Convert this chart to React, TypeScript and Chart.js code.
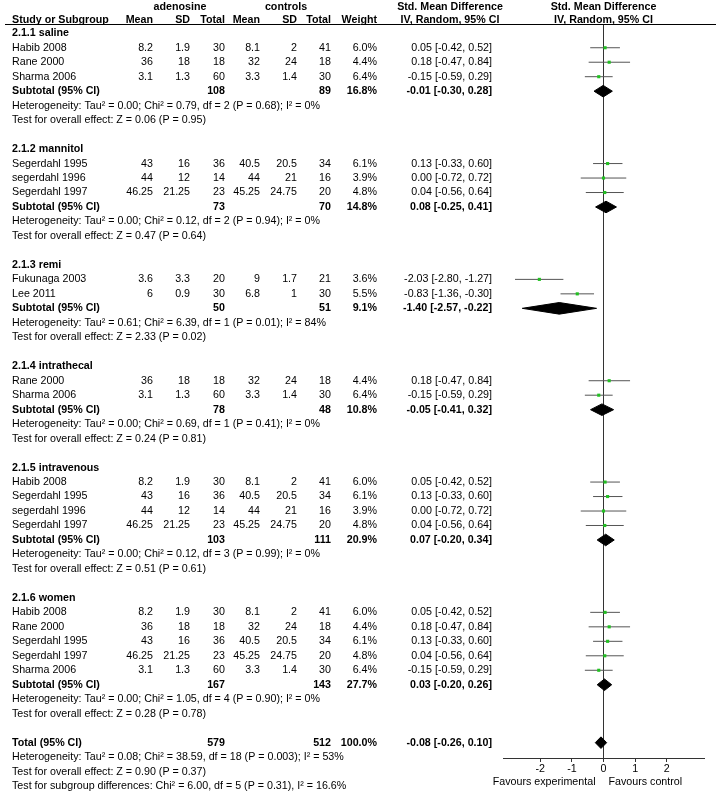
import React, { useEffect, useRef } from "react";
import { Chart, registerables } from "chart.js";

Chart.register(...registerables);

// ---------- data ----------
const SUBGROUP_TITLES = [
  "2.1.1 saline",
  "2.1.2 mannitol",
  "2.1.3 remi",
  "2.1.4 intrathecal",
  "2.1.5 intravenous",
  "2.1.6 women",
];

const STUDY_GROUP = [0, 0, 0, 1, 1, 1, 2, 2, 3, 3, 4, 4, 4, 4, 5, 5, 5, 5, 5];
const STUDY_NAMES = [
  "Habib 2008", "Rane 2000", "Sharma 2006",
  "Segerdahl 1995", "segerdahl 1996", "Segerdahl 1997",
  "Fukunaga 2003", "Lee 2011",
  "Rane 2000", "Sharma 2006",
  "Habib 2008", "Segerdahl 1995", "segerdahl 1996", "Segerdahl 1997",
  "Habib 2008", "Rane 2000", "Segerdahl 1995", "Segerdahl 1997", "Sharma 2006",
];
const EXP_MEAN = [8.2, 36, 3.1, 43, 44, 46.25, 3.6, 6, 36, 3.1, 8.2, 43, 44, 46.25, 8.2, 36, 43, 46.25, 3.1];
const EXP_SD = [1.9, 18, 1.3, 16, 12, 21.25, 3.3, 0.9, 18, 1.3, 1.9, 16, 12, 21.25, 1.9, 18, 16, 21.25, 1.3];
const EXP_N = [30, 18, 60, 36, 14, 23, 20, 30, 18, 60, 30, 36, 14, 23, 30, 18, 36, 23, 60];
const CTL_MEAN = [8.1, 32, 3.3, 40.5, 44, 45.25, 9, 6.8, 32, 3.3, 8.1, 40.5, 44, 45.25, 8.1, 32, 40.5, 45.25, 3.3];
const CTL_SD = [2, 24, 1.4, 20.5, 21, 24.75, 1.7, 1, 24, 1.4, 2, 20.5, 21, 24.75, 2, 24, 20.5, 24.75, 1.4];
const CTL_N = [41, 18, 30, 34, 16, 20, 21, 30, 18, 30, 41, 34, 16, 20, 41, 18, 34, 20, 30];
const WEIGHT = [6.0, 4.4, 6.4, 6.1, 3.9, 4.8, 3.6, 5.5, 4.4, 6.4, 6.0, 6.1, 3.9, 4.8, 6.0, 4.4, 6.1, 4.8, 6.4];
const SMD = [0.05, 0.18, -0.15, 0.13, 0.0, 0.04, -2.03, -0.83, 0.18, -0.15, 0.05, 0.13, 0.0, 0.04, 0.05, 0.18, 0.13, 0.04, -0.15];
const CI_LOW = [-0.42, -0.47, -0.59, -0.33, -0.72, -0.56, -2.8, -1.36, -0.47, -0.59, -0.42, -0.33, -0.72, -0.56, -0.42, -0.47, -0.33, -0.56, -0.59];
const CI_HIGH = [0.52, 0.84, 0.29, 0.6, 0.72, 0.64, -1.27, -0.3, 0.84, 0.29, 0.52, 0.6, 0.72, 0.64, 0.52, 0.84, 0.6, 0.64, 0.29];

const SUB_EXP_N = [108, 73, 50, 78, 103, 167];
const SUB_CTL_N = [89, 70, 51, 48, 111, 143];
const SUB_WEIGHT = [16.8, 14.8, 9.1, 10.8, 20.9, 27.7];
const SUB_SMD = [-0.01, 0.08, -1.4, -0.05, 0.07, 0.03];
const SUB_LOW = [-0.3, -0.25, -2.57, -0.41, -0.2, -0.2];
const SUB_HIGH = [0.28, 0.41, -0.22, 0.32, 0.34, 0.26];
const SUB_HETEROGENEITY = [
  "Heterogeneity: Tau² = 0.00; Chi² = 0.79, df = 2 (P = 0.68); I² = 0%",
  "Heterogeneity: Tau² = 0.00; Chi² = 0.12, df = 2 (P = 0.94); I² = 0%",
  "Heterogeneity: Tau² = 0.61; Chi² = 6.39, df = 1 (P = 0.01); I² = 84%",
  "Heterogeneity: Tau² = 0.00; Chi² = 0.69, df = 1 (P = 0.41); I² = 0%",
  "Heterogeneity: Tau² = 0.00; Chi² = 0.12, df = 3 (P = 0.99); I² = 0%",
  "Heterogeneity: Tau² = 0.00; Chi² = 1.05, df = 4 (P = 0.90); I² = 0%",
];
const SUB_OVERALL = [
  "Test for overall effect: Z = 0.06 (P = 0.95)",
  "Test for overall effect: Z = 0.47 (P = 0.64)",
  "Test for overall effect: Z = 2.33 (P = 0.02)",
  "Test for overall effect: Z = 0.24 (P = 0.81)",
  "Test for overall effect: Z = 0.51 (P = 0.61)",
  "Test for overall effect: Z = 0.28 (P = 0.78)",
];

const TOTAL_EXP_N = 579;
const TOTAL_CTL_N = 512;
const TOTAL_WEIGHT = 100.0;
const TOTAL_SMD = -0.08;
const TOTAL_LOW = -0.26;
const TOTAL_HIGH = 0.1;
const TOTAL_NOTES = [
  "Heterogeneity: Tau² = 0.08; Chi² = 38.59, df = 18 (P = 0.003); I² = 53%",
  "Test for overall effect: Z = 0.90 (P = 0.37)",
  "Test for subgroup differences: Chi² = 6.00, df = 5 (P = 0.31), I² = 16.6%",
];

const X_TICKS = [-2, -1, 0, 1, 2];

// ---------- layout / style constants ----------
const W = 716;
const H = 799;
const FONT_FAMILY = "Arial, 'Liberation Sans', sans-serif";
const FONT_SIZE = 10.7;
const ROW_MIN = -0.64;
const ROW_MAX = 50.06;
const X_MIN = -3.18;
const X_MAX = 3.18;
const DIAMOND_HALF = 0.4;
const GREEN = "#22c022";
const CI_COLOR = "#555555";

const COL = {
  name: 12,
  expMean: 153,
  expSd: 190,
  expN: 225,
  ctlMean: 260,
  ctlSd: 297,
  ctlN: 331,
  weight: 377,
  ci: 492,
  expHead: 180,
  ctlHead: 286,
  ciHead: 450,
};

type RowItem = { y: number; kind: "group" | "study" | "subtotal" | "note" | "total"; idx: number; text?: string };

function buildRows(): RowItem[] {
  const rows: RowItem[] = [];
  let r = 0;
  SUBGROUP_TITLES.forEach((_, g) => {
    rows.push({ y: r++, kind: "group", idx: g });
    STUDY_GROUP.forEach((sg, i) => {
      if (sg === g) rows.push({ y: r++, kind: "study", idx: i });
    });
    rows.push({ y: r++, kind: "subtotal", idx: g });
    rows.push({ y: r++, kind: "note", idx: g, text: SUB_HETEROGENEITY[g] });
    rows.push({ y: r++, kind: "note", idx: g, text: SUB_OVERALL[g] });
    r++;
  });
  rows.push({ y: r++, kind: "total", idx: 0 });
  TOTAL_NOTES.forEach((t) => rows.push({ y: r++, kind: "note", idx: 0, text: t }));
  return rows;
}

const fmtCI = (m: number, lo: number, hi: number) =>
  `${m.toFixed(2)} [${lo.toFixed(2)}, ${hi.toFixed(2)}]`;

function diamond(lo: number, est: number, hi: number, row: number) {
  return [
    { x: lo, y: row },
    { x: est, y: row - DIAMOND_HALF },
    { x: hi, y: row },
    { x: est, y: row + DIAMOND_HALF },
    { x: lo, y: row },
  ];
}

export default function App() {
  const ref = useRef<HTMLCanvasElement | null>(null);

  useEffect(() => {
    document.body.style.margin = "0";
    const canvas = ref.current;
    if (!canvas) return;
    const rows = buildRows();

    const studyRows = rows.filter((r) => r.kind === "study");
    const subRows = rows.filter((r) => r.kind === "subtotal");
    const totalRow = rows.find((r) => r.kind === "total")!;

    const datasets: any[] = [];
    // points (drawn on top)
    datasets.push({
      label: "points",
      data: studyRows.map((r) => ({ x: SMD[r.idx], y: r.y })),
      pointStyle: "rect",
      pointRadius: 2.2,
      pointBackgroundColor: GREEN,
      pointBorderWidth: 0,
      showLine: false,
    });
    // CI lines
    studyRows.forEach((r) => {
      datasets.push({
        label: "ci",
        data: [
          { x: CI_LOW[r.idx], y: r.y },
          { x: CI_HIGH[r.idx], y: r.y },
        ],
        showLine: true,
        borderColor: CI_COLOR,
        borderWidth: 1,
        pointRadius: 0,
      });
    });
    const diamondStyle = {
      showLine: true,
      borderColor: "#000",
      backgroundColor: "#000",
      borderWidth: 1,
      fill: "shape",
      pointRadius: 0,
      tension: 0,
    };
    subRows.forEach((r) => {
      const g = r.idx;
      datasets.push({
        label: "diamond",
        data: diamond(SUB_LOW[g], SUB_SMD[g], SUB_HIGH[g], r.y),
        ...diamondStyle,
      });
    });
    datasets.push({
      label: "diamond",
      data: diamond(TOTAL_LOW, TOTAL_SMD, TOTAL_HIGH, totalRow.y),
      ...diamondStyle,
    });
    // zero line
    datasets.push({
      label: "zero",
      data: [
        { x: 0, y: ROW_MIN },
        { x: 0, y: ROW_MAX },
      ],
      showLine: true,
      borderColor: "#333",
      borderWidth: 1,
      pointRadius: 0,
    });

    const font = (bold: boolean) => `${bold ? "bold " : ""}${FONT_SIZE}px ${FONT_FAMILY}`;

    const tablePlugin = {
      id: "forestTable",
      afterDraw(chart: any) {
        const { ctx, chartArea } = chart;
        const y = chart.scales.y;
        const x = chart.scales.x;
        ctx.save();
        ctx.fillStyle = "#000";
        ctx.textBaseline = "middle";

        const put = (text: string, px: number, py: number, align: CanvasTextAlign, bold: boolean) => {
          ctx.font = font(bold);
          ctx.textAlign = align;
          ctx.fillText(text, px, py);
        };

        // header
        const h1 = y.getPixelForValue(-1.78);
        const h2 = y.getPixelForValue(-0.92);
        const zx = x.getPixelForValue(0);
        put("adenosine", COL.expHead, h1, "center", true);
        put("controls", COL.ctlHead, h1, "center", true);
        put("Std. Mean Difference", COL.ciHead, h1, "center", true);
        put("Std. Mean Difference", zx, h1, "center", true);
        put("Study or Subgroup", COL.name, h2, "left", true);
        put("Mean", COL.expMean, h2, "right", true);
        put("SD", COL.expSd, h2, "right", true);
        put("Total", COL.expN, h2, "right", true);
        put("Mean", COL.ctlMean, h2, "right", true);
        put("SD", COL.ctlSd, h2, "right", true);
        put("Total", COL.ctlN, h2, "right", true);
        put("Weight", COL.weight, h2, "right", true);
        put("IV, Random, 95% CI", COL.ciHead, h2, "center", true);
        put("IV, Random, 95% CI", zx, h2, "center", true);

        // header rule
        ctx.strokeStyle = "#000";
        ctx.lineWidth = 1;
        ctx.beginPath();
        ctx.moveTo(5, Math.round(chartArea.top) + 0.5);
        ctx.lineTo(W, Math.round(chartArea.top) + 0.5);
        ctx.stroke();

        rows.forEach((r) => {
          const py = y.getPixelForValue(r.y);
          if (r.kind === "group") {
            put(SUBGROUP_TITLES[r.idx], COL.name, py, "left", true);
          } else if (r.kind === "study") {
            const i = r.idx;
            put(STUDY_NAMES[i], COL.name, py, "left", false);
            put(String(EXP_MEAN[i]), COL.expMean, py, "right", false);
            put(String(EXP_SD[i]), COL.expSd, py, "right", false);
            put(String(EXP_N[i]), COL.expN, py, "right", false);
            put(String(CTL_MEAN[i]), COL.ctlMean, py, "right", false);
            put(String(CTL_SD[i]), COL.ctlSd, py, "right", false);
            put(String(CTL_N[i]), COL.ctlN, py, "right", false);
            put(WEIGHT[i].toFixed(1) + "%", COL.weight, py, "right", false);
            put(fmtCI(SMD[i], CI_LOW[i], CI_HIGH[i]), COL.ci, py, "right", false);
          } else if (r.kind === "subtotal") {
            const g = r.idx;
            put("Subtotal (95% CI)", COL.name, py, "left", true);
            put(String(SUB_EXP_N[g]), COL.expN, py, "right", true);
            put(String(SUB_CTL_N[g]), COL.ctlN, py, "right", true);
            put(SUB_WEIGHT[g].toFixed(1) + "%", COL.weight, py, "right", true);
            put(fmtCI(SUB_SMD[g], SUB_LOW[g], SUB_HIGH[g]), COL.ci, py, "right", true);
          } else if (r.kind === "total") {
            put("Total (95% CI)", COL.name, py, "left", true);
            put(String(TOTAL_EXP_N), COL.expN, py, "right", true);
            put(String(TOTAL_CTL_N), COL.ctlN, py, "right", true);
            put(TOTAL_WEIGHT.toFixed(1) + "%", COL.weight, py, "right", true);
            put(fmtCI(TOTAL_SMD, TOTAL_LOW, TOTAL_HIGH), COL.ci, py, "right", true);
          } else if (r.text) {
            put(r.text, COL.name, py, "left", false);
          }
        });

        // favours labels
        const fy = chartArea.bottom + 24.5;
        put("Favours experimental", zx - 8, fy, "right", false);
        put("Favours control", zx + 5, fy, "left", false);
        ctx.restore();
      },
    };

    const chart = new Chart(canvas, {
      type: "scatter",
      data: { datasets },
      options: {
        animation: false,
        responsive: false,
        devicePixelRatio: 1,
        events: [],
        layout: { padding: { top: 24, left: 503, right: 12, bottom: 19 } },
        plugins: {
          legend: { display: false },
          tooltip: { enabled: false },
          title: { display: false },
        },
        scales: {
          x: {
            type: "linear",
            min: X_MIN,
            max: X_MAX,
            afterBuildTicks: (scale: any) => {
              scale.ticks = X_TICKS.map((v) => ({ value: v }));
            },
            afterFit: (scale: any) => {
              scale.height = 22;
            },
            border: { display: true, color: "#333", width: 1 },
            grid: {
              display: true,
              drawOnChartArea: false,
              drawTicks: true,
              tickLength: 4,
              color: "#333",
            },
            ticks: {
              padding: 1,
              color: "#000",
              font: { family: FONT_FAMILY, size: FONT_SIZE },
              maxRotation: 0,
              autoSkip: false,
              callback: (v: any) => String(v),
            },
          },
          y: {
            type: "linear",
            display: false,
            reverse: true,
            min: ROW_MIN,
            max: ROW_MAX,
          },
        },
      },
      plugins: [tablePlugin],
    });
    return () => chart.destroy();
  }, []);

  return (
    <div style={{ width: W, height: H, background: "#fff" }}>
      <canvas ref={ref} width={W} height={H} style={{ display: "block" }} />
    </div>
  );
}
